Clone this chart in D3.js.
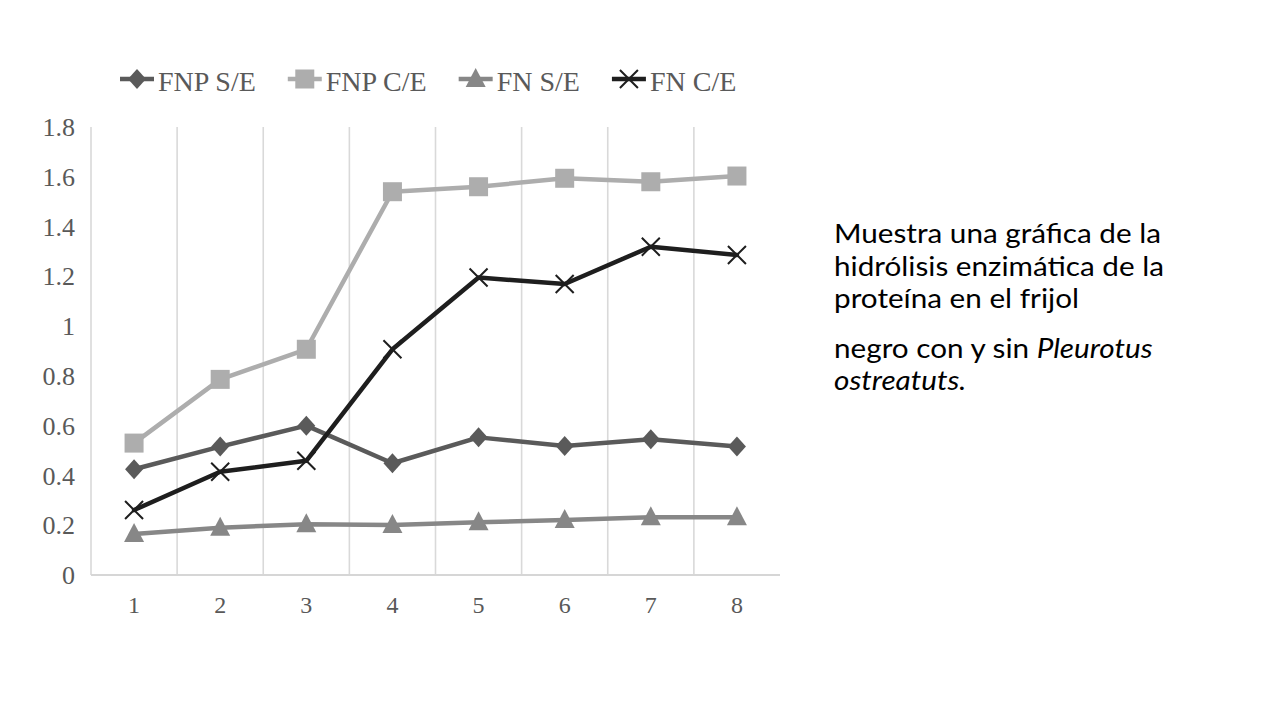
<!DOCTYPE html>
<html>
<head>
<meta charset="utf-8">
<script src="https://cdn.jsdelivr.net/npm/d3@7"></script>
<style>
  html, body { margin: 0; padding: 0; background: #ffffff; }
  svg { display: block; }
</style>
</head>
<body>
<svg id="chart" width="1280" height="720"></svg>
<script>
// ---- data ----
const categories = ["1", "2", "3", "4", "5", "6", "7", "8"];
const seriesNames = ["FNP S/E", "FNP C/E", "FN S/E", "FN C/E"];
const fnpSE = [0.425, 0.516, 0.600, 0.449, 0.553, 0.518, 0.545, 0.516];
const fnpCE = [0.530, 0.786, 0.907, 1.540, 1.560, 1.594, 1.580, 1.603];
const fnSE  = [0.165, 0.190, 0.204, 0.201, 0.212, 0.221, 0.232, 0.232];
const fnCE  = [0.261, 0.415, 0.459, 0.907, 1.195, 1.169, 1.319, 1.286];
const yTicks = [0, 0.2, 0.4, 0.6, 0.8, 1, 1.2, 1.4, 1.6, 1.8];
const noteLines = [
  ["Muestra una gráfica de la"],
  ["hidrólisis enzimática de la"],
  ["proteína en el frijol"],
  ["negro con y sin ", "Pleurotus"],
  ["", "ostreatuts."]
];

// ---- styles ----
const seriesStyle = [
  { color: "#5a5a5a", marker: "diamond" },
  { color: "#adadad", marker: "square" },
  { color: "#878787", marker: "triangle" },
  { color: "#1e1e1e", marker: "x" }
];
const seriesValues = [fnpSE, fnpCE, fnSE, fnCE];

const svg = d3.select("#chart");
const plotLeft = 91, plotRight = 780, plotTop = 127, plotBottom = 575;

const x = d3.scaleBand().domain(categories).range([plotLeft, plotRight]);
const y = d3.scaleLinear().domain([0, 1.8]).range([plotBottom, plotTop]);

// vertical gridlines at category boundaries
svg.append("g").selectAll("line")
  .data(categories)
  .join("line")
  .attr("x1", d => x(d)).attr("x2", d => x(d))
  .attr("y1", y(1.8)).attr("y2", plotBottom)
  .attr("stroke", "#d9d9d9").attr("stroke-width", 1.6);

// bottom axis line
svg.append("line")
  .attr("x1", plotLeft).attr("x2", plotRight)
  .attr("y1", plotBottom).attr("y2", plotBottom)
  .attr("stroke", "#d6d6d6").attr("stroke-width", 2.2);

// y tick labels
svg.append("g").selectAll("text")
  .data(yTicks)
  .join("text")
  .attr("x", 75).attr("y", d => y(d))
  .attr("dy", "0.35em")
  .attr("text-anchor", "end")
  .attr("font-family", "Liberation Serif, Times New Roman, serif")
  .attr("font-size", 26)
  .attr("fill", "#595959")
  .text(d => d3.format("~g")(d));

// x tick labels
svg.append("g").selectAll("text")
  .data(categories)
  .join("text")
  .attr("x", d => x(d) + x.bandwidth() / 2)
  .attr("y", plotBottom + 38)
  .attr("text-anchor", "middle")
  .attr("font-family", "Liberation Serif, Times New Roman, serif")
  .attr("font-size", 24)
  .attr("fill", "#595959")
  .text(d => d);

// markers
function drawMarker(g, type, color, cx, cy) {
  if (type === "diamond") {
    g.append("path")
      .attr("d", `M${cx},${cy - 10}L${cx + 9},${cy}L${cx},${cy + 10}L${cx - 9},${cy}Z`)
      .attr("fill", color);
  } else if (type === "square") {
    g.append("rect")
      .attr("x", cx - 9.5).attr("y", cy - 9.5)
      .attr("width", 19).attr("height", 19)
      .attr("fill", color);
  } else if (type === "triangle") {
    g.append("path")
      .attr("d", `M${cx},${cy - 11}L${cx + 10},${cy + 8}L${cx - 10},${cy + 8}Z`)
      .attr("fill", color);
  } else if (type === "x") {
    g.append("path")
      .attr("d", `M${cx - 9},${cy - 9}L${cx + 9},${cy + 9}M${cx - 9},${cy + 9}L${cx + 9},${cy - 9}`)
      .attr("stroke", color).attr("stroke-width", 2).attr("fill", "none");
  }
}

const line = d3.line()
  .x((d, i) => x(categories[i]) + x.bandwidth() / 2)
  .y(d => y(d));

seriesValues.forEach((vals, si) => {
  const st = seriesStyle[si];
  const g = svg.append("g");
  g.append("path")
    .attr("d", line(vals))
    .attr("fill", "none")
    .attr("stroke", st.color)
    .attr("stroke-width", 4.5)
    .attr("stroke-linejoin", "round")
    .attr("stroke-linecap", "round");
  vals.forEach((v, i) => {
    drawMarker(g, st.marker, st.color, x(categories[i]) + x.bandwidth() / 2, y(v));
  });
});

// legend
const legend = svg.append("g");
let lx = 120;
const ly = 79;
seriesNames.forEach((name, si) => {
  const st = seriesStyle[si];
  legend.append("line")
    .attr("x1", lx).attr("x2", lx + 34)
    .attr("y1", ly).attr("y2", ly)
    .attr("stroke", st.color).attr("stroke-width", 4.5);
  drawMarker(legend, st.marker, st.color, lx + 17, ly);
  const t = legend.append("text")
    .attr("x", lx + 38).attr("y", ly + 12)
    .attr("font-family", "Liberation Serif, Times New Roman, serif")
    .attr("font-size", 28)
    .attr("fill", "#595959")
    .text(name);
  lx += 38 + t.node().getComputedTextLength() + 32;
});

// side note (Lato, widened slightly to match the reference's Calibri-like text)
const note = svg.append("g").attr("transform", "translate(834,0) scale(1.12,1)");
const noteY = [243, 276, 308, 358, 390];
noteLines.forEach((parts, i) => {
  const t = note.append("text")
    .attr("x", 0).attr("y", noteY[i])
    .attr("font-family", "Lato, Carlito, Calibri, sans-serif")
    .attr("font-size", 26.5)
    .attr("fill", "#000000");
  t.append("tspan").text(parts[0]);
  if (parts[1]) t.append("tspan").attr("font-style", "italic").text(parts[1]);
});
</script>
</body>
</html>
